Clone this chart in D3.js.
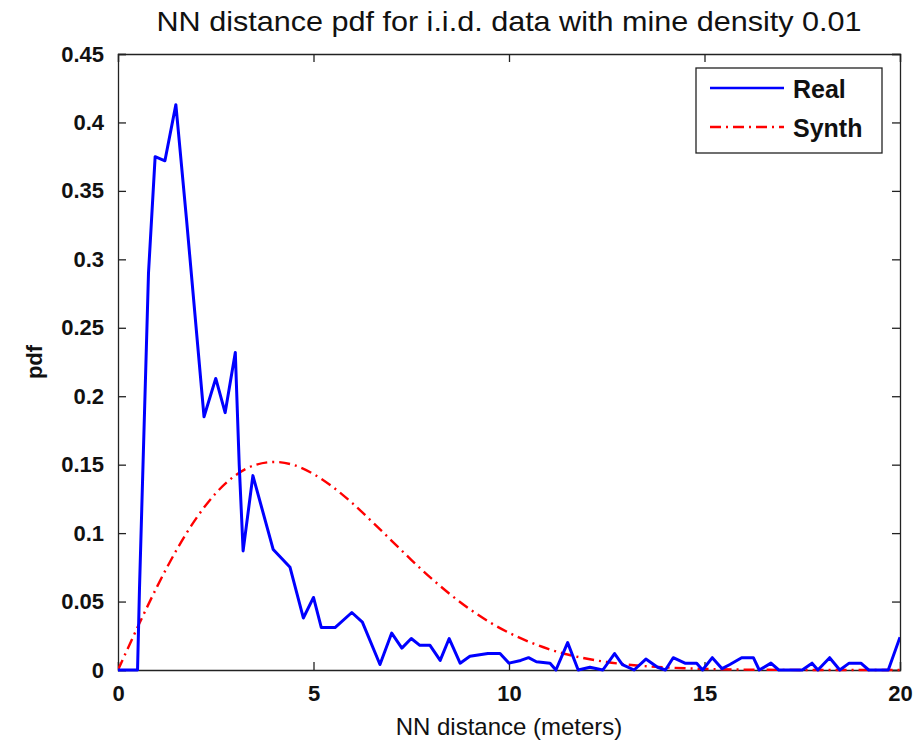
<!DOCTYPE html>
<html><head><meta charset="utf-8">
<script src="https://cdn.jsdelivr.net/npm/d3@7"></script>
<style>body{margin:0;background:#fff}svg{display:block}text{font-family:"Liberation Sans",Arial,sans-serif}</style>
</head><body><svg id="c" width="924" height="751"></svg>
<script>
const realX=[0,0.5,0.55,0.78,0.95,1.2,1.48,1.75,2.2,2.5,2.74,3.0,3.1,3.2,3.45,3.97,4.4,4.74,5.0,5.2,5.55,5.98,6.25,6.7,7.0,7.26,7.5,7.72,7.98,8.24,8.47,8.75,9.0,9.46,9.77,10.0,10.3,10.5,10.7,11.05,11.2,11.5,11.77,12.07,12.4,12.7,12.9,13.2,13.5,13.8,14.0,14.2,14.5,14.8,14.95,15.2,15.45,15.65,15.95,16.25,16.4,16.7,16.9,17.5,17.75,17.9,18.2,18.46,18.7,19.0,19.2,19.7,20];
const realY=[0,0,0.06,0.29,0.375,0.372,0.413,0.33,0.185,0.213,0.188,0.232,0.15,0.087,0.142,0.088,0.075,0.038,0.053,0.031,0.031,0.042,0.035,0.004,0.027,0.016,0.023,0.018,0.018,0.007,0.023,0.005,0.01,0.012,0.012,0.005,0.007,0.009,0.006,0.005,0,0.02,0,0.002,0,0.012,0.004,0,0.008,0.002,0,0.009,0.005,0.005,0,0.009,0.001,0.004,0.009,0.009,0,0.005,0,0,0.005,0,0.009,0,0.005,0.005,0,0,0.024];
const synthX=[0,0.5,1,1.5,2,2.5,3,3.5,4,4.5,5,5.5,6,6.5,7,7.5,8,8.5,9,9.5,10,10.5,11,11.5,12,12.5,13,14,15,16,17,18,19,20];
const synthY=[0,0.0312,0.0609,0.0878,0.1108,0.1291,0.1421,0.1497,0.1520,0.1497,0.1432,0.1336,0.1217,0.1083,0.0944,0.0805,0.0673,0.0552,0.0444,0.0350,0.0272,0.0207,0.0154,0.0113,0.0082,0.0058,0.0040,0.0019,0.0008,0.0003,0.0001,0,0,0];
const xTicks=[0,5,10,15,20];
const yTicks=[0,0.05,0.1,0.15,0.2,0.25,0.3,0.35,0.4,0.45];
const yTickLabels=["0","0.05","0.1","0.15","0.2","0.25","0.3","0.35","0.4","0.45"];
const seriesNames=["Real","Synth"];
const titleText="NN distance pdf for i.i.d. data with mine density 0.01";
const xLabel="NN distance (meters)";
const yLabel="pdf";

const svg=d3.select("#c");
const L=118,R=900,T=54,B=670;
const x=d3.scaleLinear().domain([0,20]).range([L,R]);
const y=d3.scaleLinear().domain([0,0.45]).range([B,T]);

svg.append("defs").append("clipPath").attr("id","clip").append("rect").attr("x",L).attr("y",T-2).attr("width",R-L).attr("height",B-T+4);

// axes
const ax=svg.append("g").attr("transform",`translate(0,${B})`).call(d3.axisBottom(x).tickValues(xTicks).tickSize(-8).tickPadding(14).tickFormat(d3.format("d")));
const axT=svg.append("g").attr("transform",`translate(0,${T})`).call(d3.axisTop(x).tickValues(xTicks).tickSize(-8).tickFormat(""));
const ay=svg.append("g").attr("transform",`translate(${L},0)`).call(d3.axisLeft(y).tickValues(yTicks).tickSize(-8).tickPadding(14).tickFormat((d,i)=>yTickLabels[i]));
const ayR=svg.append("g").attr("transform",`translate(${R},0)`).call(d3.axisRight(y).tickValues(yTicks).tickSize(-8).tickFormat(""));
[ax,axT,ay,ayR].forEach(g=>{g.selectAll("path").attr("stroke","#222").attr("stroke-width",1.3);g.selectAll("line").attr("stroke","#222").attr("stroke-width",1.3);});
ax.selectAll("text").attr("font-size",22).attr("font-weight","bold").attr("fill","#111").attr("dy","0.75em");
ay.selectAll("text").attr("font-size",22).attr("font-weight","bold").attr("fill","#111");

// lines
const pg=svg.append("g").attr("clip-path","url(#clip)");
const synthPts=synthX.map((v,i)=>[v,synthY[i]]);
const realPts=realX.map((v,i)=>[v,realY[i]]);
const line=d3.line().x(d=>x(d[0])).y(d=>y(d[1]));
const sline=d3.line().curve(d3.curveMonotoneX).x(d=>x(d[0])).y(d=>y(d[1]));
pg.append("path").attr("d",sline(synthPts)).attr("fill","none").attr("stroke","#ff0000").attr("stroke-width",2.4).attr("stroke-dasharray","11,5,2,5");
pg.append("path").attr("d",line(realPts)).attr("fill","none").attr("stroke","#0000ff").attr("stroke-width",3).attr("stroke-linejoin","round");

// title & labels
svg.append("text").attr("x",(L+R)/2).attr("y",31).attr("text-anchor","middle").attr("font-size",28).attr("textLength",705).attr("lengthAdjust","spacingAndGlyphs").attr("fill","#111").text(titleText);
svg.append("text").attr("x",(L+R)/2).attr("y",735).attr("text-anchor","middle").attr("font-size",24).attr("fill","#111").text(xLabel);
svg.append("text").attr("transform",`translate(42,${(T+B)/2}) rotate(-90)`).attr("text-anchor","middle").attr("font-size",22).attr("font-weight","bold").attr("fill","#111").text(yLabel);

// legend
const lg=svg.append("g");
lg.append("rect").attr("x",696).attr("y",68).attr("width",186).attr("height",85).attr("fill","#fff").attr("stroke","#222").attr("stroke-width",1.3);
const cols=["#0000ff","#ff0000"],dashes=[null,"11,5,2,5"],widths=[2.4,2.4];
seriesNames.forEach((n,i)=>{
  const yy=88+i*39;
  lg.append("line").attr("x1",710).attr("x2",784).attr("y1",yy).attr("y2",yy).attr("stroke",cols[i]).attr("stroke-width",widths[i]).attr("stroke-dasharray",dashes[i]);
  lg.append("text").attr("x",793).attr("y",yy+10).attr("font-size",25).attr("font-weight","bold").attr("fill","#111").text(n);
});
</script></body></html>
